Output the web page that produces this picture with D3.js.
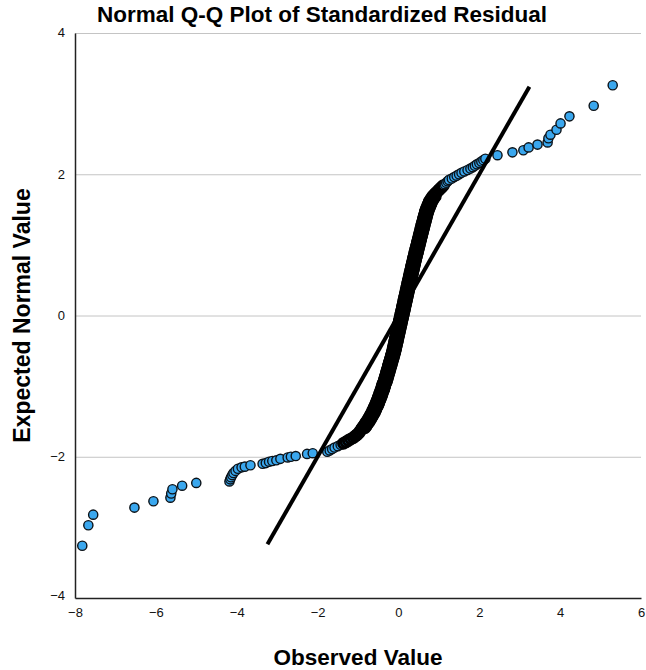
<!DOCTYPE html>
<html>
<head>
<meta charset="utf-8">
<script src="https://cdn.jsdelivr.net/npm/d3@7"></script>
<style>
  body { margin: 0; background: #fff; }
  text { font-family: "Liberation Sans", Arial, sans-serif; }
</style>
</head>
<body>
<div id="dataviz"></div>
<script>
// Normal Q-Q plot, [observed, expected] pairs

var lowerTail = [
  [-7.82,-3.26],[-7.67,-2.97],[-7.55,-2.82],[-6.53,-2.72],[-6.06,-2.63],[-5.64,-2.58],[-5.62,-2.52],[-5.59,-2.46],
  [-5.35,-2.41],[-5.00,-2.37],[-4.18,-2.35],[-4.16,-2.32],[-4.14,-2.29],[-4.11,-2.26],[-4.08,-2.23],[-4.03,-2.20],
  [-3.97,-2.17],[-3.88,-2.15],[-3.80,-2.14],[-3.66,-2.12],[-3.36,-2.10],[-3.28,-2.09],[-3.20,-2.07],[-3.12,-2.06],
  [-3.02,-2.05],[-2.92,-2.03],[-2.74,-2.01],[-2.66,-2.00],[-2.54,-1.99],[-2.26,-1.96],[-2.12,-1.95],
  [-1.76,-1.93],[-1.70,-1.91],[-1.64,-1.89],[-1.58,-1.87],[-1.50,-1.85],[-1.43,-1.83]
];

var lowerKnee = [
  [-1.36,-1.81],[-1.30,-1.79],[-1.24,-1.77],[-1.18,-1.75],[-1.12,-1.73],[-1.07,-1.71],[-1.03,-1.69],[-0.99,-1.67],
  [-0.96,-1.65]
];

// the dense S part, left edge of the band
var centralBand = [
  [-0.93,-1.62],[-0.90,-1.60],[-0.88,-1.58],[-0.85,-1.56],[-0.83,-1.54],[-0.81,-1.52],[-0.78,-1.50],[-0.76,-1.48],
  [-0.74,-1.46],[-0.72,-1.44],[-0.70,-1.42],[-0.68,-1.40],[-0.66,-1.38],[-0.64,-1.36],[-0.63,-1.34],[-0.61,-1.32],
  [-0.60,-1.30],[-0.58,-1.28],[-0.56,-1.26],[-0.55,-1.24],[-0.54,-1.22],[-0.52,-1.20],[-0.51,-1.18],[-0.50,-1.16],
  [-0.48,-1.14],[-0.47,-1.12],[-0.46,-1.10],[-0.45,-1.08],[-0.43,-1.06],[-0.42,-1.04],[-0.41,-1.02],[-0.40,-1.00],
  [-0.39,-0.98],[-0.38,-0.96],[-0.36,-0.94],[-0.35,-0.92],[-0.34,-0.90],[-0.33,-0.88],[-0.32,-0.86],[-0.31,-0.84],
  [-0.30,-0.82],[-0.29,-0.80],[-0.28,-0.78],[-0.27,-0.76],[-0.26,-0.74],[-0.25,-0.72],[-0.24,-0.70],[-0.23,-0.68],
  [-0.22,-0.66],[-0.21,-0.64],[-0.20,-0.62],[-0.19,-0.60],[-0.18,-0.58],[-0.17,-0.56],[-0.16,-0.54],[-0.15,-0.52],
  [-0.142,-0.50],[-0.134,-0.48],[-0.126,-0.46],[-0.119,-0.44],[-0.111,-0.42],[-0.103,-0.40],[-0.095,-0.38],[-0.087,-0.36],
  [-0.079,-0.34],[-0.072,-0.32],[-0.064,-0.30],[-0.056,-0.28],[-0.048,-0.26],[-0.040,-0.24],[-0.033,-0.22],[-0.025,-0.20],
  [-0.017,-0.18],[-0.009,-0.16],[-0.001,-0.14],[0.007,-0.12],[0.015,-0.10],[0.022,-0.08],[0.030,-0.06],[0.038,-0.04],
  [0.046,-0.02],[0.054,0.00],[0.062,0.02],[0.069,0.04],[0.077,0.06],[0.085,0.08],[0.093,0.10],[0.100,0.12],
  [0.108,0.14],[0.116,0.16],[0.124,0.18],[0.131,0.20],[0.139,0.22],[0.147,0.24],[0.155,0.26],[0.162,0.28],
  [0.170,0.30],[0.178,0.32],[0.185,0.34],[0.193,0.36],[0.201,0.38],[0.208,0.40],[0.216,0.42],[0.224,0.44],
  [0.232,0.46],[0.240,0.48],[0.248,0.50],[0.256,0.52],[0.264,0.54],[0.272,0.56],[0.280,0.58],[0.288,0.60],
  [0.296,0.62],[0.304,0.64],[0.312,0.66],[0.320,0.68],[0.328,0.70],[0.336,0.72],[0.344,0.74],[0.352,0.76],
  [0.360,0.78],[0.368,0.80],[0.377,0.82],[0.386,0.84],[0.394,0.86],[0.403,0.88],[0.412,0.90],[0.421,0.92],
  [0.430,0.94],[0.438,0.96],[0.447,0.98],[0.456,1.00],[0.465,1.02],[0.474,1.04],[0.482,1.06],[0.491,1.08],
  [0.500,1.10],[0.509,1.12],[0.518,1.14],[0.526,1.16],[0.535,1.18],[0.544,1.20],[0.553,1.22],[0.562,1.24],
  [0.570,1.26],[0.579,1.28],[0.588,1.30],[0.597,1.32],[0.606,1.34],[0.616,1.36],[0.625,1.38],[0.634,1.40],
  [0.644,1.42],[0.653,1.44],[0.663,1.46],[0.672,1.48],[0.686,1.50],[0.700,1.52],[0.714,1.54],[0.728,1.56],
  [0.742,1.58],[0.756,1.60],[0.770,1.62],[0.793,1.64],[0.816,1.66],[0.840,1.68],[0.866,1.70]
];

// the dense S part, right edge of the band
var centralBandRight = [
  [-0.83,-1.59],[-0.805,-1.57],[-0.78,-1.55],[-0.76,-1.53],[-0.735,-1.51],[-0.71,-1.49],[-0.69,-1.47],[-0.67,-1.45],
  [-0.65,-1.43],[-0.63,-1.41],[-0.61,-1.39],[-0.59,-1.37],[-0.575,-1.35],[-0.56,-1.33],[-0.545,-1.31],[-0.53,-1.29],
  [-0.51,-1.27],[-0.495,-1.25],[-0.485,-1.23],[-0.47,-1.21],[-0.455,-1.19],[-0.445,-1.17],[-0.43,-1.15],[-0.415,-1.13],
  [-0.405,-1.11],[-0.395,-1.09],[-0.38,-1.07],[-0.365,-1.05],[-0.355,-1.03],[-0.345,-1.01],[-0.335,-0.99],[-0.325,-0.97],
  [-0.31,-0.95],[-0.295,-0.93],[-0.285,-0.91],[-0.275,-0.89],[-0.265,-0.87],[-0.255,-0.85],[-0.245,-0.83],[-0.235,-0.81],
  [-0.225,-0.79],[-0.215,-0.77],[-0.205,-0.75],[-0.195,-0.73],[-0.185,-0.71],[-0.175,-0.69],[-0.165,-0.67],[-0.155,-0.65],
  [-0.145,-0.63],[-0.135,-0.61],[-0.125,-0.59],[-0.115,-0.57],[-0.105,-0.55],[-0.095,-0.53],[-0.086,-0.51],[-0.078,-0.49],
  [-0.070,-0.47],[-0.062,-0.45],[-0.055,-0.43],[-0.047,-0.41],[-0.039,-0.39],[-0.031,-0.37],[-0.023,-0.35],[-0.016,-0.33],
  [-0.008,-0.31],[0.000,-0.29],[0.008,-0.27],[0.016,-0.25],[0.023,-0.23],[0.031,-0.21],[0.039,-0.19],[0.047,-0.17],
  [0.055,-0.15],[0.063,-0.13],[0.071,-0.11],[0.078,-0.09],[0.086,-0.07],[0.094,-0.05],[0.102,-0.03],[0.110,-0.01],
  [0.118,0.01],[0.125,0.03],[0.133,0.05],[0.141,0.07],[0.149,0.09],[0.157,0.11],[0.164,0.13],[0.172,0.15],
  [0.180,0.17],[0.188,0.19],[0.195,0.21],[0.203,0.23],[0.211,0.25],[0.219,0.27],[0.226,0.29],[0.234,0.31],
  [0.242,0.33],[0.249,0.35],[0.257,0.37],[0.265,0.39],[0.272,0.41],[0.280,0.43],[0.288,0.45],[0.296,0.47],
  [0.304,0.49],[0.312,0.51],[0.320,0.53],[0.328,0.55],[0.336,0.57],[0.344,0.59],[0.352,0.61],[0.360,0.63],
  [0.368,0.65],[0.376,0.67],[0.384,0.69],[0.392,0.71],[0.400,0.73],[0.408,0.75],[0.416,0.77],[0.424,0.79],
  [0.432,0.81],[0.441,0.83],[0.450,0.85],[0.459,0.87],[0.467,0.89],[0.476,0.91],[0.485,0.93],[0.494,0.95],
  [0.503,0.97],[0.511,0.99],[0.520,1.01],[0.529,1.03],[0.538,1.05],[0.547,1.07],[0.555,1.09],[0.564,1.11],
  [0.573,1.13],[0.582,1.15],[0.591,1.17],[0.599,1.19],[0.608,1.21],[0.617,1.23],[0.626,1.25],[0.635,1.27],
  [0.643,1.29],[0.652,1.31],[0.662,1.33],[0.671,1.35],[0.680,1.37],[0.690,1.39],[0.699,1.41],[0.708,1.43],
  [0.718,1.45],[0.727,1.47],[0.739,1.49],[0.753,1.51],[0.767,1.53],[0.781,1.55],[0.795,1.57],[0.809,1.59],
  [0.823,1.61],[0.842,1.63],[0.865,1.65],[0.888,1.67],[0.913,1.69]
];

var upperKnee = [
  [0.901,1.72],[0.936,1.74],[0.971,1.76],[1.005,1.78],[1.041,1.80],[1.076,1.82],[1.112,1.84]
];

var upperShoulder = [
  [1.147,1.86],[1.182,1.88],[1.217,1.90],[1.25,1.92],[1.32,1.94],[1.38,1.96],[1.44,1.98],[1.50,2.00],
  [1.56,2.02],[1.63,2.04],[1.71,2.06],[1.78,2.08],[1.84,2.10],[1.89,2.12],[1.94,2.14],[2.00,2.16],
  [2.05,2.18],[2.10,2.20],[2.15,2.22]
];

var upperTail = [
  [2.45,2.27],[2.82,2.31],[3.09,2.34],[3.22,2.38],[3.44,2.42],[3.69,2.45],[3.71,2.51],[3.76,2.56],
  [3.91,2.63],[4.01,2.72],[4.23,2.82],[4.83,2.97],[5.30,3.26]
];

var xTicks = [-8, -6, -4, -2, 0, 2, 4, 6];
var yTicks = [-4, -2, 0, 2, 4];
var refLine = [-3.24, 3.24];   // y = x reference, from .. to

// dimensions
var width = 646,
    height = 670,
    margin = {top: 33, right: 5, bottom: 72, left: 75};

var svg = d3.select("#dataviz")
  .append("svg")
    .attr("width", width)
    .attr("height", height);

var x = d3.scaleLinear()
  .domain([-8, 6])
  .range([margin.left, width - margin.right]);

var y = d3.scaleLinear()
  .domain([-4, 4])
  .range([height - margin.bottom, margin.top]);

// horizontal grid lines
svg.append("g")
  .selectAll("line")
  .data(yTicks.filter(function(d) { return d > -4; }))
  .enter()
  .append("line")
    .attr("x1", x(-8))
    .attr("x2", x(6))
    .attr("y1", function(d) { return y(d) + 0.5; })
    .attr("y2", function(d) { return y(d) + 0.5; })
    .attr("stroke", "#c4c4c4")
    .attr("stroke-width", 1);

// axes (no tick marks, just labels)
var xAxis = svg.append("g")
  .attr("transform", "translate(0," + y(-4) + ")")
  .call(d3.axisBottom(x).tickValues(xTicks).tickSize(0).tickPadding(10).tickFormat(d3.format("d")));
var yAxis = svg.append("g")
  .attr("transform", "translate(" + x(-8) + ",0)")
  .call(d3.axisLeft(y).tickValues(yTicks).tickSize(0).tickPadding(10).tickFormat(d3.format("d")));

[xAxis, yAxis].forEach(function(a) {
  a.select(".domain").attr("stroke", "#222").attr("stroke-width", 1.5);
  a.selectAll("text").style("font-size", "13px").attr("fill", "#111");
});
// SPSS nudges the corner labels apart
yAxis.selectAll(".tick text").filter(function(d) { return d === -4; }).attr("dy", "0.1em");
yAxis.selectAll(".tick text").filter(function(d) { return d === 4; }).attr("dy", "0.25em");

// points, drawn in rank order; the dense band gets heavier outlines so the
// overlapping circles read as the solid dark stroke of the original
function tag(arr, dense) {
  return arr.map(function(d) { return {obs: d[0], exp: d[1], dense: dense}; });
}
var allPoints = tag(lowerTail, false)
  .concat(tag(lowerKnee, true), tag(centralBand, true), tag(centralBandRight, true),
          tag(upperKnee, true), tag(upperShoulder, false), tag(upperTail, false))
  .sort(function(a, b) { return a.exp - b.exp; });

svg.append("g")
  .selectAll("circle")
  .data(allPoints)
  .enter()
  .append("circle")
    .attr("cx", function(d) { return x(d.obs); })
    .attr("cy", function(d) { return y(d.exp); })
    .attr("r", function(d) { return d.dense ? 4.9 : 4.6; })
    .attr("fill", "#3aa7ee")
    .attr("stroke", function(d) { return d.dense ? "#000" : "#0b1218"; })
    .attr("stroke-width", function(d) { return d.dense ? 3 : 1.4; });

// reference line
svg.append("line")
  .attr("x1", x(refLine[0]))
  .attr("y1", y(refLine[0]))
  .attr("x2", x(refLine[1]))
  .attr("y2", y(refLine[1]))
  .attr("stroke", "#000")
  .attr("stroke-width", 4);

// titles
svg.append("text")
  .attr("x", width / 2 - 1)
  .attr("y", 22)
  .attr("text-anchor", "middle")
  .style("font-size", "22.5px")
  .style("font-weight", "bold")
  .text("Normal Q-Q Plot of Standardized Residual");

svg.append("text")
  .attr("x", (x(-8) + x(6)) / 2)
  .attr("y", 665)
  .attr("text-anchor", "middle")
  .style("font-size", "22.5px")
  .style("font-weight", "bold")
  .text("Observed Value");

svg.append("text")
  .attr("transform", "translate(30," + (y(0)) + ") rotate(-90)")
  .attr("text-anchor", "middle")
  .style("font-size", "23px")
  .style("font-weight", "bold")
  .text("Expected Normal Value");
</script>
</body>
</html>
